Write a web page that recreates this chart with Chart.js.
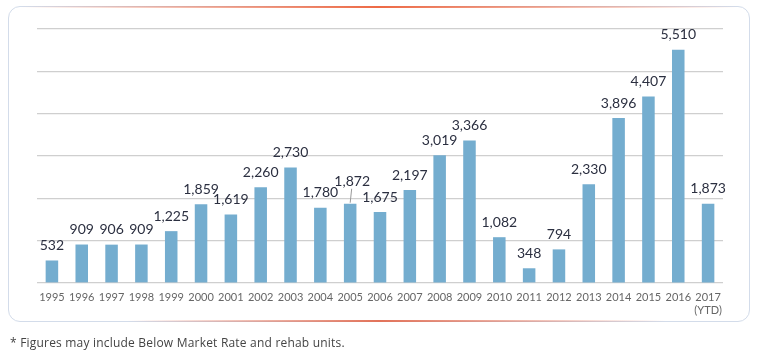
<!DOCTYPE html>
<html>
<head>
<meta charset="utf-8">
<script src="https://cdn.jsdelivr.net/npm/chart.js@4/dist/chart.umd.min.js"></script>
<style>
  html, body { margin:0; padding:0; background:#fff; }
  body { width:766px; height:353px; position:relative; overflow:hidden; font-family: Lato, "Open Sans", sans-serif; }
  .card { position:absolute; left:8px; top:6px; width:740px; height:314px; border:1.5px solid #d3dcea; border-radius:12px; }
  .topline, .botline { position:absolute; left:20px; width:718px; height:1.5px; }
  .topline { top:6px; background:linear-gradient(to right, rgba(211,220,234,0), #ee6a45 50%, rgba(211,220,234,0)); }
  .botline { top:320px; background:linear-gradient(to right, rgba(211,220,234,0) 15%, #e2735a 50%, rgba(211,220,234,0) 90%); }
  #wrap { position:absolute; left:0; top:0; width:766px; height:353px; }
  .note { position:absolute; left:10px; top:334px; font-size:12px; color:#444; font-family: "Open Sans", Lato, sans-serif; letter-spacing:0.2px; }
</style>
</head>
<body>
<div class="card"></div>
<div class="topline"></div>
<div class="botline"></div>
<div id="wrap"><canvas id="c" width="766" height="353"></canvas></div>
<div class="note">* Figures may include Below Market Rate and rehab units.</div>
<script>
const years = ["1995","1996","1997","1998","1999","2000","2001","2002","2003","2004","2005","2006","2007","2008","2009","2010","2011","2012","2013","2014","2015","2016","2017"];
const tickLabels = ["1995","1996","1997","1998","1999","2000","2001","2002","2003","2004","2005","2006","2007","2008","2009","2010","2011","2012","2013","2014","2015","2016",["2017","(YTD)"]];
const units = [532,909,906,909,1225,1859,1619,2260,2730,1780,1872,1675,2197,3019,3366,1082,348,794,2330,3896,4407,5510,1873];
const labelLift = {10: 7};

const valueLabels = {
  id: 'valueLabels',
  afterDatasetsDraw(chart) {
    const ctx = chart.ctx;
    const meta = chart.getDatasetMeta(0);
    ctx.save();
    ctx.font = '14px Lato, "Open Sans", sans-serif';
    ctx.fillStyle = '#2b2f40';
    ctx.textAlign = 'center';
    ctx.textBaseline = 'middle';
    meta.data.forEach((bar, i) => {
      const lift = labelLift[i] || 0;
      const txt = units[i].toLocaleString('en-US');
      const y = bar.y - 15 - lift;
      ctx.fillText(txt, bar.x + (lift ? 2 : 0), y);
      if (lift) {
        ctx.strokeStyle = '#999';
        ctx.lineWidth = 1;
        ctx.beginPath();
        ctx.moveTo(bar.x, bar.y - 1);
        ctx.lineTo(bar.x + 1.5, y + 7);
        ctx.stroke();
      }
    });
    ctx.restore();
  }
};

new Chart(document.getElementById('c'), {
  type: 'bar',
  data: {
    labels: tickLabels,
    datasets: [{
      data: units,
      backgroundColor: '#74adcf',
      borderWidth: 0,
      barPercentage: 0.84,
      categoryPercentage: 0.5
    }]
  },
  options: {
    responsive: false,
    animation: false,
    events: [],
    layout: { padding: { left: 37, right: 43, top: 29, bottom: 0 } },
    plugins: { legend: { display: false }, tooltip: { enabled: false } },
    scales: {
      x: {
        grid: { display: false, drawTicks: false },
        border: { display: false },
        ticks: {
          color: '#666',
          font: { size: 11, family: 'Lato, "Open Sans", sans-serif' },
          padding: 8,
          maxRotation: 0,
          autoSkip: false
        },
        afterFit(scale) { scale.height = 70; }
      },
      y: {
        min: 0, max: 6000,
        ticks: { display: false, stepSize: 1000 },
        grid: { color: '#cfcfcf', lineWidth: 1.2, drawTicks: false },
        border: { display: false },
        afterFit(scale) { scale.width = 0; }
      }
    }
  },
  plugins: [valueLabels]
});
</script>
</body>
</html>
